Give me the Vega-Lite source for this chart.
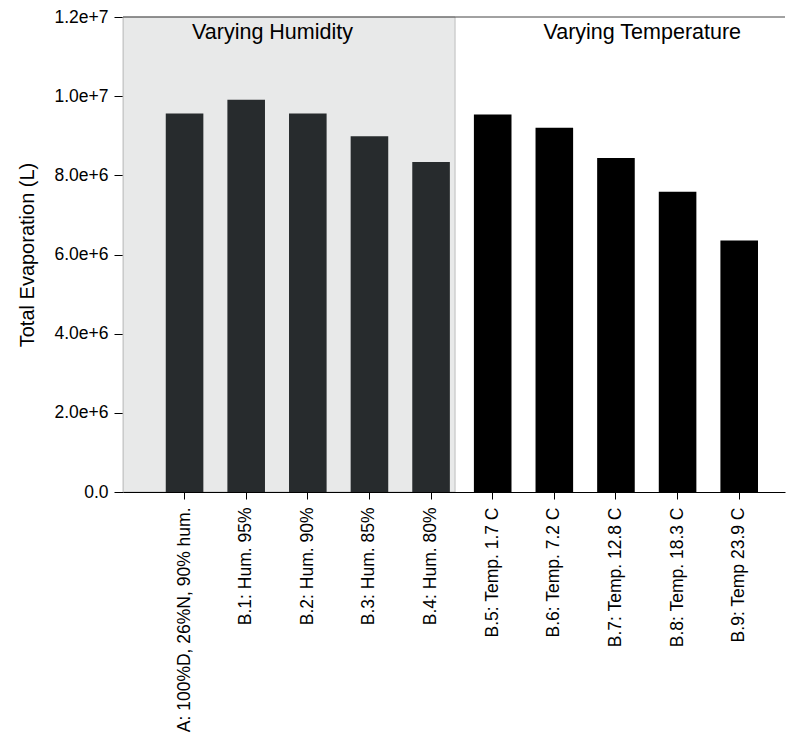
{
  "$schema": "https://vega.github.io/schema/vega-lite/v6.json",
  "width": 662,
  "height": 475,
  "autosize": "none",
  "padding": {"left": 123, "top": 17, "right": 5, "bottom": 254},
  "background": "white",
  "config": {
    "view": {"stroke": null},
    "font": "Liberation Sans",
    "axis": {"grid": false, "domainColor": "#000000", "tickColor": "#000000", "labelColor": "#000000", "titleColor": "#000000", "labelFont": "Liberation Sans", "titleFont": "Liberation Sans"}
  },
  "datasets": {
    "runs": [
      {"scenario": "A: 100%D, 26%N, 90% hum.", "group": "Humidity", "evaporation": 9560000},
      {"scenario": "B.1: Hum. 95%", "group": "Humidity", "evaporation": 9910000},
      {"scenario": "B.2: Hum. 90%", "group": "Humidity", "evaporation": 9560000},
      {"scenario": "B.3: Hum. 85%", "group": "Humidity", "evaporation": 8990000},
      {"scenario": "B.4: Hum. 80%", "group": "Humidity", "evaporation": 8335000},
      {"scenario": "B.5: Temp. 1.7 C", "group": "Temperature", "evaporation": 9540000},
      {"scenario": "B.6: Temp. 7.2 C", "group": "Temperature", "evaporation": 9200000},
      {"scenario": "B.7: Temp. 12.8 C", "group": "Temperature", "evaporation": 8435000},
      {"scenario": "B.8: Temp. 18.3 C", "group": "Temperature", "evaporation": 7585000},
      {"scenario": "B.9: Temp 23.9 C", "group": "Temperature", "evaporation": 6355000}
    ],
    "shaded": [
      {"first": "A: 100%D, 26%N, 90% hum.", "last": "B.4: Hum. 80%"}
    ],
    "headings": [
      {"anchor": "B.1: Hum. 95%", "heading": "Varying Humidity"},
      {"anchor": "B.7: Temp. 12.8 C", "heading": "Varying Temperature"}
    ]
  },
  "layer": [
    {
      "data": {"name": "shaded"},
      "mark": {"type": "rect", "fill": "#e8e9e9", "stroke": "#bdbdbd", "strokeWidth": 1},
      "encoding": {
        "x": {"field": "first", "type": "nominal", "bandPosition": -1.136},
        "x2": {"field": "last", "bandPosition": 1.138},
        "y": {"datum": 12000000, "type": "quantitative"},
        "y2": {"datum": 0}
      }
    },
    {
      "data": {"values": [{"top": 12000000}]},
      "mark": {"type": "rule", "color": "#444444", "strokeWidth": 1},
      "encoding": {
        "y": {"field": "top", "type": "quantitative"}
      }
    },
    {
      "data": {"name": "runs"},
      "mark": {"type": "bar"},
      "encoding": {
        "x": {
          "field": "scenario",
          "type": "nominal",
          "sort": null,
          "scale": {
            "domain": [
              "A: 100%D, 26%N, 90% hum.", "B.1: Hum. 95%", "B.2: Hum. 90%", "B.3: Hum. 85%", "B.4: Hum. 80%",
              "B.5: Temp. 1.7 C", "B.6: Temp. 7.2 C", "B.7: Temp. 12.8 C", "B.8: Temp. 18.3 C", "B.9: Temp 23.9 C"
            ],
            "paddingInner": 0.39,
            "paddingOuter": 0.566,
            "align": 0.613
          },
          "axis": {
            "title": null,
            "labelAngle": 270,
            "labelAlign": "right",
            "labelBaseline": "middle",
            "labelFontSize": 17.5,
            "labelPadding": 8,
            "labelLimit": 300,
            "tickSize": 7,
            "domainWidth": 1
          }
        },
        "y": {
          "field": "evaporation",
          "type": "quantitative",
          "scale": {"domain": [0, 12000000], "nice": false},
          "axis": {
            "title": "Total Evaporation (L)",
            "titleFontSize": 20,
            "titleFontWeight": "normal",
            "titlePadding": 16,
            "values": [0, 2000000, 4000000, 6000000, 8000000, 10000000, 12000000],
            "labelExpr": "datum.value == 0 ? '0.0' : format(datum.value, '.1e')",
            "labelFontSize": 17.5,
            "labelPadding": 6,
            "tickSize": 9
          }
        },
        "color": {
          "field": "group",
          "type": "nominal",
          "scale": {"domain": ["Humidity", "Temperature"], "range": ["#272b2d", "#000000"]},
          "legend": null
        }
      }
    },
    {
      "data": {"name": "headings"},
      "mark": {"type": "text", "fontSize": 21.5, "color": "#000000", "align": "center", "baseline": "middle"},
      "encoding": {
        "x": {"field": "anchor", "type": "nominal", "bandPosition": 1.2},
        "y": {"datum": 11600000, "type": "quantitative"},
        "text": {"field": "heading"}
      }
    }
  ]
}
